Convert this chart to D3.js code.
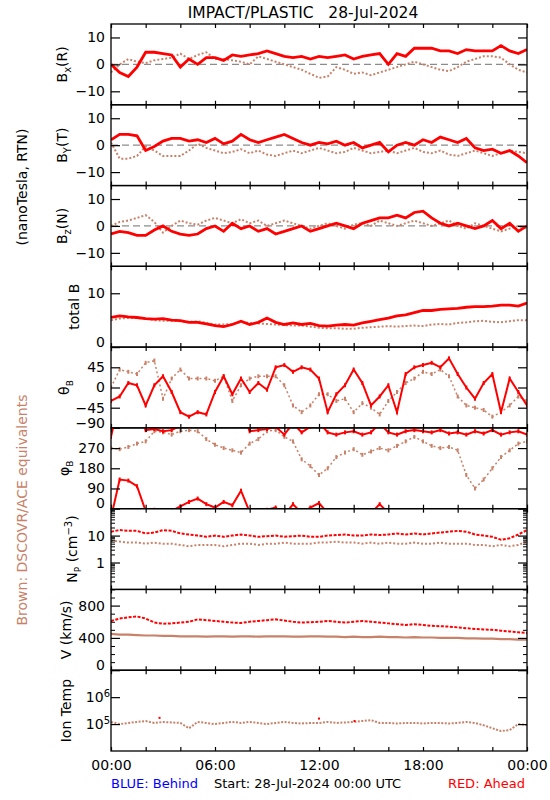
<!DOCTYPE html>
<html><head><meta charset="utf-8">
<script src="https://cdn.jsdelivr.net/npm/d3@7"></script>
<style>
html,body{margin:0;padding:0;background:#fff;}
svg{display:block;}
text{font-family:"DejaVu Sans",sans-serif;}
</style></head>
<body><svg id="chart" width="550" height="800"></svg>
<script>
// ---------------- DATA (30‑min grid) ----------------
const hours = [0,0.5,1,1.5,2,2.5,3,3.5,4,4.5,5,5.5,6,6.5,7,7.5,8,8.5,9,9.5,10,10.5,11,11.5,12,
  12.5,13,13.5,14,14.5,15,15.5,16,16.5,17,17.5,18,18.5,19,19.5,20,20.5,21,21.5,22,22.5,23,23.5,24];

const bxAhead = [0,-3,-4.5,-1,4.5,4.5,4,3.5,-1,2,0,2.5,2.5,1.5,3.5,3,3.5,4,5,4,3,2.5,3,2,3,
  2.5,3,3.5,2,3,3.5,4,0,4,3,6,6,6,5,5,4,5.5,5,5,5,7,5,4,5.5];
const bxAce = [-3,0,2,1,0.5,1.5,2,2.5,4,2,3.5,4.5,2,2,1.5,1,0,3,2,1,0,-1,-2,-3.5,-5,
  -4.5,-1,-2,-3.5,-3,-4,-3,-2,-1,0,1,0,-1,-2,-2.5,-1,1,2,3,3,2.5,0,-2,-3];

const byAhead = [2,4,4,3.5,-2,-0.5,1.5,2.5,2.5,1.5,2,1,2.5,0.5,1.5,4,2,1,2,3,4,2.5,1,0,1,
  0.5,1.5,0,1,-1,0,1,-2.5,0,1,0,2,1,3,2,1,2.5,-1,-2,-1.5,-3,-2,-4,-6.5];
const byAce = [1,-5,-5,-4,-0.5,-2,-4,-4,-4,-2,0.5,-1,-2,-3,-2.5,-1.5,-3,-2,-3.5,-4,-3,-2,-3,-2,-1,
  -2,-3,-2.5,-1,-2,-3,-2.5,-2,-3,-2,-1,-2.5,-3,-2,-3.5,-4,-3,-2,-3,-4,-3,-2,-2.5,-3];

const bzAhead = [-3,-2,-2.5,-3.5,-3.5,-1.5,0,-2,-3,-3.5,-3,-1,0,-2,1,-1,0,-2,-1,-3,-2,-1,0,-2,-1,
  0,1,0,-1,1,2,3,3,4,3,5,5.5,3,1,0,1,0,-1,0,2,-1,1,-2,0];
const bzAce = [0,1.5,2,3,4,1.5,-2.5,0,2,1,0.5,2,3,2,1,2.5,1,2,0,1,2,1,0,-1,0,
  1,0,-1,0.5,1,0,2,1,0,1,2,1,0,1,2,0,-1,1,0,-1,-2,-1,0,-1];

const btAhead = [5.5,5.8,5.6,5.5,5.3,5.2,5.3,5.0,4.9,4.6,4.6,4.3,4.0,3.8,4.2,4.8,4.2,4.6,5.4,4.6,4.2,4.5,4.2,4.4,4.0,
  3.9,4.1,4.2,4.1,4.5,4.8,5.1,5.4,5.8,6.0,6.4,6.8,6.8,7.0,7.1,7.2,7.4,7.5,7.5,7.6,7.8,7.8,7.6,8.2];
const btAce = [5.0,5.3,5.4,5.4,5.3,5.0,4.9,4.9,4.8,4.7,4.8,4.5,4.2,4.2,4.3,4.7,4.5,4.4,4.3,4.2,4.1,4.0,4.0,3.8,3.6,
  3.5,3.5,3.4,3.4,3.6,3.7,3.8,3.9,3.8,3.9,4.0,3.9,4.2,4.3,4.2,4.5,4.6,4.8,4.9,4.7,4.6,4.8,5.0,5.0];

const thetaAhead = [-30,-20,10,5,-40,5,25,-10,-55,-65,-55,-60,-10,25,-15,20,-10,10,-5,45,50,35,45,40,20,
  -55,-15,5,40,10,-40,-20,5,-55,30,45,50,55,45,65,30,0,-25,10,30,-55,20,-10,-40];
const thetaAce = [0,40,35,30,55,60,-25,20,40,20,20,20,15,25,-30,5,20,25,25,25,5,-40,-55,-40,-15,
  -15,-30,-25,-55,-35,-45,-60,-30,-10,10,20,35,30,40,25,-20,-40,-45,-50,-65,-55,-40,-20,-30];

const phiAhead = [320,130,125,100,350,355,345,350,10,30,45,20,5,30,15,80,345,350,355,5,330,20,340,5,25,
  340,330,340,345,330,340,20,340,330,345,350,345,340,350,335,340,330,345,335,350,330,340,345,330];
const phiAce = [270,265,275,290,300,345,340,330,345,350,345,310,285,270,260,250,290,310,345,350,320,300,220,190,150,
  180,230,250,265,240,255,270,260,280,300,320,300,280,270,275,260,150,90,130,180,230,260,290,300];

const npAhead = [14,16,15,15,12,13,16,15,12,11,10,9,10,9,10,11,10,9,9.5,10,9,9.5,10,9,9,
  10,10.5,11,10,10,11,10.5,11,12,11,12,11,12,13,14,15,14,11,10,9,7,8,11,16];
const npAce = [6.5,6,5.5,5.5,5,5.5,5,5,4.5,4,4.5,4.5,4.5,4,4.5,5,5,4.5,5,5,5.5,5,5,5,5.5,
  5.5,6,5.5,5.5,5,5.5,5,5.5,5,5,5.5,5,5,5.5,5,5,5,4.5,4.5,4,4.5,4,4.5,6];

const vAhead = [610,640,655,665,640,590,575,580,590,600,630,620,610,600,590,585,600,610,620,630,615,600,590,595,600,
  610,600,590,600,610,600,590,580,570,560,570,560,550,545,540,530,520,510,505,500,490,480,470,460];
const vAce = [450,440,440,435,430,430,425,425,420,420,420,415,420,420,415,420,420,415,420,420,420,415,415,420,420,
  415,415,410,415,410,410,415,410,410,405,410,405,405,400,400,400,395,395,390,390,385,385,380,380];

const tAce = [1.2e5,1.0e5,1.1e5,1.2e5,1.3e5,1.1e5,1.2e5,1.15e5,1.1e5,0.7e5,1.2e5,1.1e5,1.0e5,1.1e5,1.2e5,1.1e5,1.2e5,1.1e5,1.0e5,1.1e5,1.2e5,1.1e5,1.05e5,1.1e5,1.1e5,
  1.2e5,1.1e5,1.15e5,1.2e5,1.3e5,1.4e5,1.1e5,1.1e5,1.05e5,1.1e5,1.1e5,1.05e5,1.1e5,1.1e5,1.05e5,1.1e5,1.2e5,1.1e5,0.9e5,0.7e5,0.55e5,0.6e5,1.0e5,0.9e5];
const tAheadHours = [2.8,12.0,14.05];
const tAhead = [1.7e5,1.6e5,1.3e5];

// tick values / labels
const bTicks = [-10,0,10];
const btTicks = [0,10];
const thetaTicks = [-90,-45,0,45];
const phiTicks = [0,90,180,270];
const npTicks = [1,10];
const vTicks = [0,400,800];
const tTicks = [1e5,1e6];
const timeTicks = [0,2,4,6,8,10,12,14,16,18,20,22,24];
const timeLabelHours = [0,6,12,18,24];
const timeLabels = ["00:00","06:00","12:00","18:00","00:00"];

// ---------------- LAYOUT ----------------
const RED = "#ff0000", BROWN = "#c8826a";
const svg = d3.select("#chart");
const x0 = 111, x1 = 527, top0 = 24, bottom = 751;
const nP = 9, pH = (bottom - top0) / nP;
const x = d3.scaleLinear().domain([0,24]).range([x0,x1]);

svg.append("text").attr("x",303).attr("y",18).attr("text-anchor","middle")
  .attr("font-size",15.5).style("white-space","pre").text("IMPACT/PLASTIC   28-Jul-2024");

function sup(v){ return v===1e5 ? "5" : "6"; }
const neg = d=>d<0?"−"+Math.abs(d):d;

const panels = [
  {label:"Bx", dom:[-15,15], ticks:bTicks, fmt:neg, zero:true, red:bxAhead, brown:bxAce},
  {label:"By", dom:[-15,15], ticks:bTicks, fmt:neg, zero:true, red:byAhead, brown:byAce},
  {label:"Bz", dom:[-15,15], ticks:bTicks, fmt:neg, zero:true, red:bzAhead, brown:bzAce},
  {label:"Bt", dom:[0,15], ticks:btTicks, fmt:d=>d, red:btAhead, brown:btAce},
  {label:"theta", dom:[-90,90], ticks:thetaTicks, fmt:neg, red:thetaAhead, brown:thetaAce, dots:true},
  {label:"phi", dom:[0,360], ticks:phiTicks, fmt:d=>d, red:phiAhead, brown:phiAce, dots:true, wrap:true},
  {label:"Np", dom:[0.1,100], log:true, ticks:npTicks, fmt:d=>d, red:npAhead, brown:npAce},
  {label:"V", dom:[0,1000], ticks:vTicks, minor:[100,200,300,500,600,700,900,1000], fmt:d=>d, red:vAhead, brown:vAce},
  {label:"T", dom:[1e4,1e7], log:true, ticks:tTicks, fmt:null, brown:tAce}
];

panels.forEach((p,i)=>{
  const top = top0 + i*pH, bot = top + pH;
  const y = (p.log ? d3.scaleLog() : d3.scaleLinear()).domain(p.dom).range([bot, top]);
  const g = svg.append("g");
  const clipId = "clip"+i;
  svg.append("clipPath").attr("id",clipId).append("rect")
    .attr("x",x0).attr("y",top).attr("width",x1-x0).attr("height",pH);
  const dg = g.append("g").attr("clip-path",`url(#${clipId})`);

  if (p.zero) {
    dg.append("line").attr("x1",x0).attr("x2",x1).attr("y1",y(0)).attr("y2",y(0))
      .attr("stroke","#8c8c8c").attr("stroke-width",1.2).attr("stroke-dasharray","7,4");
  }

  function drawSeries(vals, color, style){
    let pts = hours.map((h,k)=>[h, vals[k]]);
    // unwrap angles so that crossing 0/360 stays continuous; then draw shifted copies
    const offsets = p.wrap ? [-360,0,360] : [0];
    if (p.wrap){
      const un = [pts[0][1]];
      for (let k=1;k<pts.length;k++){
        let v = pts[k][1];
        while (v - un[k-1] > 180) v -= 360;
        while (v - un[k-1] < -180) v += 360;
        un.push(v);
      }
      pts = pts.map((d,k)=>[d[0], un[k]]);
    }
    const line = d3.line().x(d=>x(d[0])).y(d=>y(d[1]));
    offsets.forEach(off=>{
      const sp = pts.map(d=>[d[0], d[1]+off]);
      dg.append("path").attr("d",line(sp)).attr("fill","none")
        .attr("stroke",color).attr("stroke-width",style.w)
        .attr("stroke-dasharray",style.dash||null);
      if (p.dots){
        dg.selectAll(null).data(sp).enter().append("rect")
          .attr("x",d=>x(d[0])-1).attr("y",d=>y(d[1])-2)
          .attr("width",2).attr("height",4).attr("fill",color);
      }
    });
  }

  if (p.brown) {
    const st = (p.label==="V") ? {w:2.2} :
               (p.label==="T") ? {w:2,dash:"2,1.5"} :
               (p.dots ? {w:1.5,dash:"2,2.5"} : {w:2,dash:"2,2"});
    drawSeries(p.brown, BROWN, st);
  }
  if (p.red) {
    const st = (p.label==="Np"||p.label==="V") ? {w:2,dash:"3,1.5"} :
               (p.dots ? {w:2} : {w:2.8});
    drawSeries(p.red, RED, st);
  }
  if (p.label==="T"){
    dg.selectAll(null).data(tAheadHours.map((h,k)=>[h,tAhead[k]])).enter().append("rect")
      .attr("x",d=>x(d[0])-1).attr("y",d=>y(d[1])-1).attr("width",2).attr("height",2).attr("fill",RED);
  }

  // frame
  g.append("rect").attr("x",x0).attr("y",top).attr("width",x1-x0).attr("height",pH)
    .attr("fill","none").attr("stroke","#000").attr("stroke-width",1.3);

  // x ticks top & bottom
  const ab = d3.axisBottom(x).tickValues(timeTicks).tickSize(-4).tickSizeOuter(0).tickFormat("");
  const at = d3.axisTop(x).tickValues(timeTicks).tickSize(-4).tickSizeOuter(0).tickFormat("");
  const gb = g.append("g").attr("transform",`translate(0,${bot})`).call(ab);
  const gt = g.append("g").attr("transform",`translate(0,${top})`).call(at);
  [gb,gt].forEach(a=>{a.select(".domain").remove(); a.selectAll("line").attr("stroke-width",1.2);});

  // y axis left
  const al = d3.axisLeft(y).tickValues(p.ticks).tickSize(-9).tickSizeOuter(0).tickPadding(6)
    .tickFormat(p.fmt ? p.fmt : d=>"");
  const gl = g.append("g").attr("transform",`translate(${x0},0)`).call(al);
  gl.select(".domain").remove();
  gl.selectAll("line").attr("stroke-width",1.2);
  gl.selectAll("text").attr("font-size",14).attr("font-family","DejaVu Sans").attr("fill","#000")
    .attr("dy", d => (Math.abs(y(d)-bot)<1) ? "-0.05em" : "0.32em");
  if (p.label==="T"){
    gl.selectAll(".tick").each(function(d){
      const t = d3.select(this).select("text").attr("dy","0.32em");
      t.text("10");
      t.append("tspan").attr("dy","-0.55em").attr("font-size",10).text(sup(d));
      t.attr("dx", "5");
    });
  }
  const ar = d3.axisRight(y).tickValues(p.ticks).tickSize(-9).tickSizeOuter(0).tickFormat("");
  const gr = g.append("g").attr("transform",`translate(${x1},0)`).call(ar);
  gr.select(".domain").remove();
  gr.selectAll("line").attr("stroke-width",1.2);

  // minor ticks
  let minors = null;
  if (p.label==="Np") {
    minors = [];
    [0.1,1,10].forEach(dec=>{ for(let m=2;m<=9;m++) minors.push(dec*m); });
  }
  if (p.minor) minors = p.minor;
  if (minors){
    const aml = d3.axisLeft(y).tickValues(minors).tickSize(-4).tickSizeOuter(0).tickFormat("");
    const gml = g.append("g").attr("transform",`translate(${x0},0)`).call(aml);
    gml.select(".domain").remove();
    const amr = d3.axisRight(y).tickValues(minors).tickSize(-4).tickSizeOuter(0).tickFormat("");
    const gmr = g.append("g").attr("transform",`translate(${x1},0)`).call(amr);
    gmr.select(".domain").remove();
  }

  // y label
  const cy = (top+bot)/2;
  const lab = svg.append("text").attr("font-size",14).attr("text-anchor","middle");
  function rot(xc){ lab.attr("transform",`translate(${xc},${cy}) rotate(-90)`); }
  if (p.label==="Bx"||p.label==="By"||p.label==="Bz"){
    rot(67);
    const s = {Bx:["x","R"],By:["Y","T"],Bz:["z","N"]}[p.label];
    lab.append("tspan").text("B");
    lab.append("tspan").attr("font-size",10).attr("dy",4).text(s[0]);
    lab.append("tspan").attr("dy",-4).text("("+s[1]+")");
  } else if (p.label==="Bt"){ rot(79); lab.text("total B"); }
  else if (p.label==="theta"){
    rot(69); lab.append("tspan").text("θ");
    lab.append("tspan").attr("font-size",9).attr("dy",4).text("B");
  } else if (p.label==="phi"){
    rot(69); lab.append("tspan").text("φ");
    lab.append("tspan").attr("font-size",9).attr("dy",4).text("B");
  } else if (p.label==="Np"){
    rot(77); lab.append("tspan").text("N");
    lab.append("tspan").attr("font-size",9).attr("dy",4).text("P");
    lab.append("tspan").attr("dy",-4).text(" (cm");
    lab.append("tspan").attr("font-size",10).attr("dy",-5).text("−3");
    lab.append("tspan").attr("dy",5).text(")");
  } else if (p.label==="V"){ rot(71); lab.text("V (km/s)"); }
  else if (p.label==="T"){ rot(71); lab.text("Ion Temp"); }
});

// bottom time labels
const axT = d3.axisBottom(x).tickValues(timeLabelHours).tickSize(0).tickPadding(9)
  .tickFormat((d,k)=>timeLabels[k]);
const gT = svg.append("g").attr("transform",`translate(0,${bottom})`).call(axT);
gT.select(".domain").remove();
gT.selectAll("text").attr("font-size",14).attr("font-family","DejaVu Sans").attr("fill","#000");

// side labels
svg.append("text").attr("font-size",14).attr("text-anchor","middle")
  .attr("transform","translate(27,187) rotate(-90)").text("(nanoTesla, RTN)");
svg.append("text").attr("font-size",14).attr("text-anchor","middle").attr("fill",BROWN)
  .attr("transform","translate(27,510) rotate(-90)").text("Brown: DSCOVR/ACE equivalents");

// footer
svg.append("text").attr("x",111).attr("y",788).attr("font-size",13).attr("fill","#0000ff").text("BLUE: Behind");
svg.append("text").attr("x",214).attr("y",788).attr("font-size",13).attr("fill","#000").text("Start: 28-Jul-2024 00:00 UTC");
svg.append("text").attr("x",525).attr("y",788).attr("font-size",13).attr("fill",RED).attr("text-anchor","end").text("RED: Ahead");
</script></body></html>
